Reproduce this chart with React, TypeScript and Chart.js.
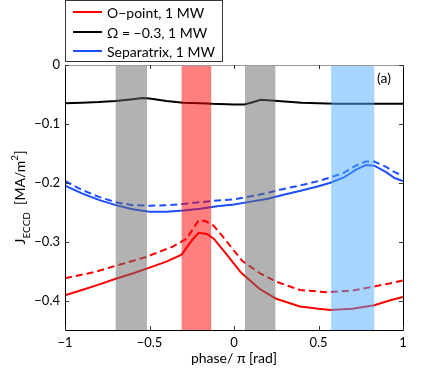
import React, { useEffect, useRef } from 'react';
import { Chart, registerables } from 'chart.js';

Chart.register(...registerables);

const FONT = 'Lato, "Open Sans", "DejaVu Sans", sans-serif';

// Axis ranges and ticks
const xMin = -1;
const xMax = 1;
const yMin = -0.45;
const yMax = 0;
const xTicks = [-1, -0.5, 0, 0.5, 1];
const yTicks = [0, -0.1, -0.2, -0.3, -0.4];

// Omega = -0.3 (black)
const omegaPhase = [-1, -0.9, -0.8, -0.7, -0.6, -0.54, -0.5, -0.4, -0.3, -0.2, -0.13, 0, 0.06, 0.1, 0.16, 0.2, 0.3, 0.4, 0.5, 0.6, 0.7, 0.8, 0.9, 1];
const omegaJ = [-0.065, -0.064, -0.063, -0.061, -0.058, -0.056, -0.057, -0.061, -0.064, -0.065, -0.066, -0.067, -0.067, -0.064, -0.059, -0.060, -0.062, -0.064, -0.065, -0.066, -0.066, -0.066, -0.066, -0.066];

// Separatrix (blue)
const sepPhase = [-1, -0.9, -0.8, -0.7, -0.6, -0.5, -0.4, -0.3, -0.2, -0.1, 0, 0.1, 0.2, 0.3, 0.4, 0.5, 0.57, 0.65, 0.72, 0.78, 0.83, 0.9, 0.95, 1];
const sepJ = [-0.205, -0.218, -0.229, -0.238, -0.245, -0.249, -0.249, -0.247, -0.244, -0.240, -0.237, -0.232, -0.227, -0.220, -0.213, -0.206, -0.200, -0.191, -0.178, -0.170, -0.171, -0.182, -0.192, -0.197];
const sepJDashed = [-0.197, -0.212, -0.224, -0.233, -0.238, -0.239, -0.238, -0.236, -0.233, -0.230, -0.228, -0.223, -0.217, -0.210, -0.204, -0.197, -0.191, -0.183, -0.171, -0.164, -0.164, -0.173, -0.182, -0.188];

// O-point (red)
const opPhase = [-1, -0.9, -0.8, -0.7, -0.6, -0.5, -0.4, -0.31, -0.25, -0.21, -0.16, -0.12, -0.04, 0.04, 0.15, 0.25, 0.39, 0.5, 0.57, 0.7, 0.83, 0.92, 1];
const opJ = [-0.391, -0.382, -0.373, -0.363, -0.354, -0.344, -0.334, -0.322, -0.298, -0.285, -0.287, -0.295, -0.323, -0.352, -0.380, -0.397, -0.410, -0.414, -0.416, -0.414, -0.408, -0.400, -0.394];
const opDashedPhase = [-1, -0.83, -0.7, -0.52, -0.36, -0.28, -0.21, -0.17, -0.12, -0.065, 0.05, 0.15, 0.25, 0.39, 0.55, 0.7, 0.83, 0.92, 1];
const opJDashed = [-0.362, -0.352, -0.341, -0.326, -0.308, -0.295, -0.264, -0.265, -0.273, -0.292, -0.333, -0.353, -0.368, -0.382, -0.386, -0.383, -0.376, -0.371, -0.366];

// Shaded phase bands
const bandStart = [-0.7, -0.31, 0.065, 0.575];
const bandEnd = [-0.515, -0.135, 0.245, 0.83];
const bandColor = ['rgba(102,102,102,0.5)', 'rgba(255,0,0,0.5)', 'rgba(102,102,102,0.5)', 'rgba(77,171,255,0.5)'];

const legendLabels = ['O\u2212point, 1 MW', '\u03A9 = \u22120.3, 1 MW', 'Separatrix, 1 MW'];
const RED = '#ff0000';
const BLACK = '#000000';
const BLUE = 'rgb(28,78,255)';
const legendColors = [RED, BLACK, BLUE];

const pts = (xs: number[], ys: number[]) => xs.map((x, i) => ({ x, y: ys[i] }));
const fmt = (v: number) => {
  const s = String(Math.round(v * 100) / 100);
  return s.replace('-', '\u2212');
};

const decor = {
  id: 'decor',
  afterDatasetsDraw(chart: any) {
    const { ctx, chartArea: a, scales } = chart;
    const x = scales.x;
    const y = scales.y;
    ctx.save();
    ctx.beginPath();
    ctx.rect(a.left, a.top, a.right - a.left, a.bottom - a.top);
    ctx.clip();
    bandStart.forEach((s, i) => {
      const x0 = x.getPixelForValue(s);
      const x1 = x.getPixelForValue(bandEnd[i]);
      ctx.fillStyle = bandColor[i];
      ctx.fillRect(x0, a.top, x1 - x0, a.bottom - a.top);
    });
    ctx.restore();

    ctx.save();
    ctx.lineWidth = 1;
    // frame
    ctx.strokeStyle = '#999';
    ctx.beginPath();
    ctx.moveTo(a.left, a.top + 0.5);
    ctx.lineTo(a.right, a.top + 0.5);
    ctx.stroke();
    ctx.strokeStyle = '#000';
    ctx.beginPath();
    ctx.moveTo(a.left + 0.5, a.top);
    ctx.lineTo(a.left + 0.5, a.bottom + 0.5);
    ctx.lineTo(a.right + 0.5, a.bottom + 0.5);
    ctx.lineTo(a.right + 0.5, a.top);
    ctx.stroke();
    // inward ticks
    const tl = 4;
    ctx.strokeStyle = '#333';
    ctx.beginPath();
    xTicks.forEach((v) => {
      const px = Math.round(x.getPixelForValue(v)) + 0.5;
      ctx.moveTo(px, a.bottom);
      ctx.lineTo(px, a.bottom - tl);
      ctx.moveTo(px, a.top);
      ctx.lineTo(px, a.top + tl);
    });
    yTicks.forEach((v) => {
      const py = Math.round(y.getPixelForValue(v)) + 0.5;
      ctx.moveTo(a.left, py);
      ctx.lineTo(a.left + tl, py);
      ctx.moveTo(a.right, py);
      ctx.lineTo(a.right - tl, py);
    });
    ctx.stroke();
    ctx.restore();
  },
  afterDraw(chart: any) {
    const { ctx, chartArea: a } = chart;
    ctx.save();
    // legend box
    const bx = 65.5, by = 0.5, bw = 157, bh = 61;
    ctx.fillStyle = '#fff';
    ctx.fillRect(bx, by, bw, bh);
    ctx.strokeStyle = '#333';
    ctx.lineWidth = 1;
    ctx.strokeRect(bx, by, bw, bh);
    const rowY = [12, 32, 51];
    ctx.font = `14px ${FONT}`;
    ctx.textBaseline = 'middle';
    ctx.textAlign = 'left';
    legendLabels.forEach((lab, i) => {
      ctx.strokeStyle = legendColors[i];
      ctx.lineWidth = 2;
      ctx.beginPath();
      ctx.moveTo(73, rowY[i]);
      ctx.lineTo(102, rowY[i]);
      ctx.stroke();
      ctx.fillStyle = '#000';
      ctx.fillText(lab, 107, rowY[i] + 1);
    });

    // panel label
    ctx.fillText('(a)', a.right - 26, a.top + 13);

    // x title
    ctx.textAlign = 'center';
    ctx.fillText('phase/ \u03C0 [rad]', (a.left + a.right) / 2, 358);

    // y title with sub/superscript
    const cy = (a.top + a.bottom) / 2;
    ctx.translate(25, cy);
    ctx.rotate(-Math.PI / 2);
    ctx.textAlign = 'left';
    ctx.textBaseline = 'alphabetic';
    const parts: [string, number, number][] = [
      ['J', 14, 0],
      ['ECCD', 10, 5],
      ['  [MA/m', 14, 0],
      ['2', 10, -7],
      [']', 14, 0],
    ];
    let total = 0;
    parts.forEach(([t, s]) => {
      ctx.font = `${s}px ${FONT}`;
      total += ctx.measureText(t).width;
    });
    let cx = -total / 2;
    parts.forEach(([t, s, dy]) => {
      ctx.font = `${s}px ${FONT}`;
      ctx.fillText(t, cx, dy);
      cx += ctx.measureText(t).width;
    });
    ctx.restore();
  },
};

export default function App() {
  const ref = useRef<HTMLCanvasElement | null>(null);
  useEffect(() => {
    if (!ref.current) return;
    const tickFont = { family: FONT, size: 13 };
    const chart = new Chart(ref.current, {
      type: 'line',
      data: {
        datasets: [
          { data: pts(opDashedPhase, opJDashed), borderColor: RED, borderDash: [7, 4] },
          { data: pts(sepPhase, sepJDashed), borderColor: BLUE, borderDash: [7, 4] },
          { data: pts(omegaPhase, omegaJ), borderColor: BLACK },
          { data: pts(sepPhase, sepJ), borderColor: BLUE },
          { data: pts(opPhase, opJ), borderColor: RED },
        ],
      },
      options: {
        animation: false,
        responsive: true,
        maintainAspectRatio: false,
        layout: { padding: { top: 65, right: 33, bottom: 0, left: 0 } },
        plugins: { legend: { display: false }, tooltip: { enabled: false }, title: { display: false } },
        elements: { point: { radius: 0 }, line: { tension: 0, borderWidth: 2, fill: false } },
        scales: {
          x: {
            type: 'linear',
            min: xMin,
            max: xMax,
            grid: { display: false, drawTicks: false },
            border: { display: false },
            afterBuildTicks: (s: any) => {
              s.ticks = xTicks.map((v) => ({ value: v }));
            },
            afterFit: (s: any) => {
              s.height = 44;
            },
            ticks: { padding: 5, font: tickFont, color: '#000', maxRotation: 0, autoSkip: false, callback: (v: any) => fmt(Number(v)) },
          },
          y: {
            type: 'linear',
            min: yMin,
            max: yMax,
            grid: { display: false, drawTicks: false },
            border: { display: false },
            afterBuildTicks: (s: any) => {
              s.ticks = yTicks.map((v) => ({ value: v }));
            },
            afterFit: (s: any) => {
              s.width = 65;
            },
            ticks: { padding: 5, font: tickFont, color: '#000', autoSkip: false, callback: (v: any) => fmt(Number(v)) },
          },
        },
      },
      plugins: [decor],
    } as any);
    return () => chart.destroy();
  }, []);
  return (
    <div style={{ position: 'fixed', left: 0, top: 0, width: 436, height: 374, background: '#fff' }}>
      <canvas ref={ref} />
    </div>
  );
}
